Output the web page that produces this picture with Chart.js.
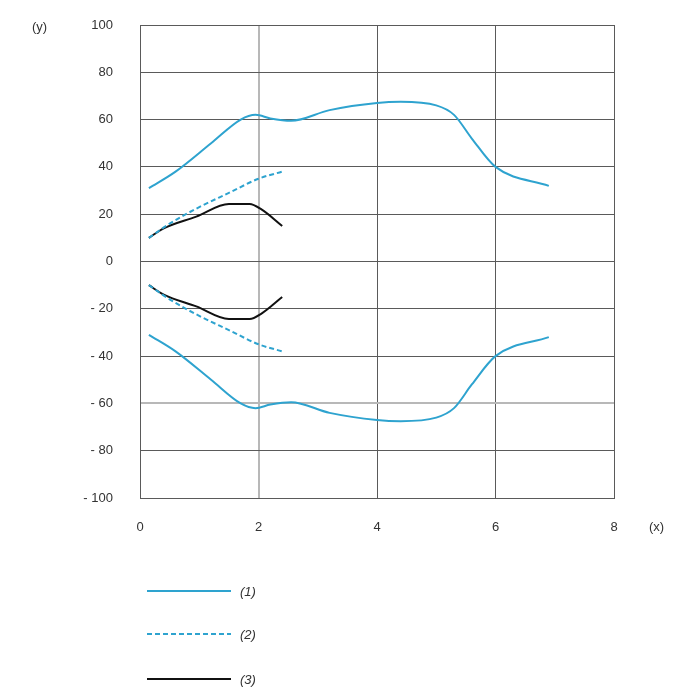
<!DOCTYPE html>
<html>
<head>
<meta charset="utf-8">
<script src="https://cdn.jsdelivr.net/npm/chart.js@4.4.1/dist/chart.umd.min.js"></script>
<style>
html,body{margin:0;padding:0;background:#fff;}
#wrap{width:700px;height:700px;}
</style>
</head>
<body>
<div id="wrap"><canvas id="c" width="700" height="700"></canvas></div>
<script>
// Data (upper halves; lower halves are mirrored)
const s1X = [0.15, 0.6, 1.2, 1.7, 1.95, 2.2, 2.55, 3.2, 4.0, 4.4, 5.0, 5.3, 5.6, 6.0, 6.9];
const s1Y = [31, 38, 50, 60, 62, 60.5, 59.5, 64, 67, 67.5, 66, 62, 52, 40, 32];
const s2X = [0.15, 0.5, 1.0, 1.5, 2.0, 2.4];
const s2Y = [10, 16, 23, 29, 35, 38];
const s3X = [0.15, 0.4, 0.95, 1.5, 1.85, 2.05, 2.4];
const s3Y = [10, 14, 19, 24.3, 24.3, 22, 15];
const seriesLabels = ['(1)', '(2)', '(3)'];
const xTicks = [0, 2, 4, 6, 8];
const yTicks = [-100, -80, -60, -40, -20, 0, 20, 40, 60, 80, 100];

const BLUE = '#2ea3cf';
const BLACK = '#111111';
const FONT = 'Liberation Sans, Arial, sans-serif';

function pts(xs, ys, sign) { return xs.map((x, i) => ({x: x, y: sign * ys[i]})); }

const styles = [
  {color: BLUE, dash: []},
  {color: BLUE, dash: [5, 3]},
  {color: BLACK, dash: []}
];
const srcs = [[s1X, s1Y], [s2X, s2Y], [s3X, s3Y]];
const datasets = [];
srcs.forEach((s, i) => {
  [1, -1].forEach(sign => {
    datasets.push({
      label: seriesLabels[i],
      data: pts(s[0], s[1], sign),
      borderColor: styles[i].color,
      borderDash: styles[i].dash,
      borderWidth: 2,
      pointRadius: 0,
      fill: false,
      showLine: true,
      cubicInterpolationMode: 'monotone',
      legendShow: sign === 1
    });
  });
});

const extras = {
  id: 'extras',
  afterDraw(chart) {
    const ctx = chart.ctx;
    ctx.save();
    ctx.fillStyle = '#333';
    ctx.font = '13px ' + FONT;
    ctx.textBaseline = 'middle';
    ctx.textAlign = 'left';
    ctx.fillText('(y)', 32, 27);
    ctx.fillText('(x)', 649, 527);
    // legend
    let k = 0;
    const ys = [591, 634, 679];
    chart.data.datasets.forEach(ds => {
      if (!ds.legendShow) return;
      const y = ys[k];
      ctx.beginPath();
      ctx.strokeStyle = ds.borderColor;
      ctx.lineWidth = 2;
      ctx.setLineDash(ds.borderDash);
      ctx.moveTo(147, y);
      ctx.lineTo(231, y);
      ctx.stroke();
      ctx.setLineDash([]);
      ctx.font = 'italic 13px ' + FONT;
      ctx.fillStyle = '#333';
      ctx.fillText(ds.label, 240, y + 1);
      k++;
    });
    ctx.restore();
  }
};

new Chart(document.getElementById('c'), {
  type: 'scatter',
  data: {datasets: datasets},
  options: {
    responsive: false,
    animation: false,
    layout: {padding: {top: 25, right: 86, bottom: 152, left: 0}},
    plugins: {legend: {display: false}, tooltip: {enabled: false}},
    scales: {
      x: {
        type: 'linear', min: 0, max: 8,
        afterBuildTicks: sc => { sc.ticks = xTicks.map(v => ({value: v})); },
        afterFit: sc => { sc.height = 50; sc.paddingLeft = 0; sc.paddingRight = 0; },
        grid: {
          drawTicks: false,
          color: ctx => ctx.tick && ctx.tick.value === 2 ? '#b8b8b8' : '#5a5a5a',
          lineWidth: ctx => ctx.tick && ctx.tick.value === 2 ? 2 : 1
        },
        border: {color: '#5a5a5a', width: 1},
        ticks: {padding: 22, color: '#333', font: {family: FONT, size: 13}}
      },
      y: {
        type: 'linear', min: -100, max: 100,
        afterBuildTicks: sc => { sc.ticks = yTicks.map(v => ({value: v})); },
        afterFit: sc => { sc.width = 140; sc.paddingTop = 0; sc.paddingBottom = 0; },
        grid: {
          drawTicks: false,
          color: ctx => ctx.tick && ctx.tick.value === -60 ? '#b8b8b8' : '#5a5a5a',
          lineWidth: ctx => ctx.tick && ctx.tick.value === -60 ? 2 : 1
        },
        border: {color: '#5a5a5a', width: 1},
        ticks: {
          padding: 27, color: '#333', font: {family: FONT, size: 13},
          callback: v => v < 0 ? '- ' + Math.abs(v) : String(v)
        }
      }
    }
  },
  plugins: [extras]
});
</script>
</body>
</html>
